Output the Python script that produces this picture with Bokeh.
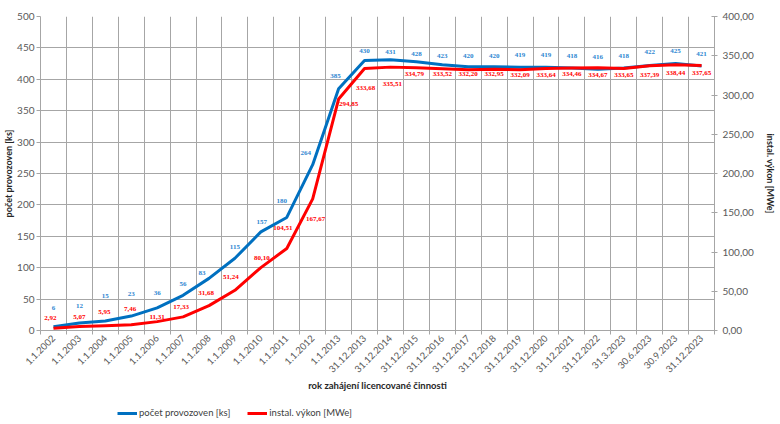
from bokeh.plotting import figure
from bokeh.layouts import column
from bokeh.models import (Range1d, LinearAxis, FixedTicker, ColumnDataSource, LabelSet,
                          Legend, LegendItem)
from bokeh.embed import file_html
from bokeh.resources import INLINE

# ---------------- data ----------------
dates = ["1.1.2002", "1.1.2003", "1.1.2004", "1.1.2005", "1.1.2006", "1.1.2007",
         "1.1.2008", "1.1.2009", "1.1.2010", "1.1.2011", "1.1.2012", "1.1.2013",
         "31.12.2013", "31.12.2014", "31.12.2015", "31.12.2016", "31.12.2017",
         "31.12.2018", "31.12.2019", "31.12.2020", "31.12.2021", "31.12.2022",
         "31.3.2023", "30.6.2023", "30.9.2023", "31.12.2023"]
count_ks = [6, 12, 15, 23, 36, 56, 83, 115, 157, 180, 264, 385, 430, 431, 428, 423,
            420, 420, 419, 419, 418, 416, 418, 422, 425, 421]
power_mwe = [2.92, 5.07, 5.95, 7.46, 11.31, 17.33, 31.68, 51.24, 80.10, 104.51, 167.67,
             294.85, 333.68, 335.51, 334.79, 333.52, 332.20, 332.95, 332.09, 333.64,
             334.46, 334.67, 333.65, 337.39, 338.44, 337.65]
left_ticks = [0, 50, 100, 150, 200, 250, 300, 350, 400, 450, 500]
right_ticks = [0, 50, 100, 150, 200, 250, 300, 350, 400]
series_names = ["počet provozoven [ks]", "instal. výkon [MWe]"]

# ---------------- label styling (screen px offsets) ----------------
blue_dx = [0, 0, 0, 0, 0, 0, -7, 0, 1, -5, -7, -3, 0, 0, 0, 0, 0, 0, 0, 0, 0, 0, 0, 0, 0, 0]
blue_dy = [19, 17, 25, 22, 15, 11, 5, 11, 10, 16, 12, 13, 9, 8, 8, 9, 11, 11, 12, 12, 12, 12, 12, 13, 13, 12]
red_dx = [-3, 0, -1, -1, 0, -2, -3, -4, 1, -4, 3, 10, 1, 2, -2, 0, 0, 0, 0, 0, 0, 0, 0, 0, 0, 0]
red_dy = [10, 10, 14, 16, 5, 10, 13, 13, 10, 20, -20, -5, -19, -17, -6, -5, -4, -5, -5, -6, -6, -7, -6, -9, -8, -8]

BLUE = "#0070C0"
BLUE_TXT = "#2E86D1"
RED = "#FF0000"
GRID = "#A6A6A6"
TXT = "#595959"
FONT = "Lato"

n = len(dates)
xs = [i + 0.5 for i in range(n)]

def cz(v):
    return f"{v:.2f}".replace(".", ",")

src = ColumnDataSource(dict(
    x=xs, cnt=count_ks, pw=power_mwe,
    cnt_txt=[str(v) for v in count_ks], pw_txt=[cz(v) for v in power_mwe],
    bdx=blue_dx, bdy=blue_dy, rdx=red_dx, rdy=red_dy))

p = figure(width=780, height=404, output_backend="svg", toolbar_location=None,
           x_range=Range1d(0, n), y_range=Range1d(0, 500),
           min_border_left=37, min_border_right=66, min_border_top=16, min_border_bottom=74)
p.outline_line_color = None
p.background_fill_color = "white"
p.border_fill_color = "white"
p.extra_y_ranges = {"pw": Range1d(0, 400)}

# x axis
xax = p.xaxis[0]
xax.ticker = FixedTicker(ticks=xs, minor_ticks=list(range(n + 1)))
xax.major_label_overrides = {x: d for x, d in zip(xs, dates)}
xax.major_label_orientation = 0.785398
xax.major_tick_out = 0
xax.major_tick_in = 0
xax.minor_tick_out = 4
xax.minor_tick_in = 0
xax.minor_tick_line_color = GRID
xax.axis_line_color = GRID
xax.major_label_text_font = FONT
xax.major_label_text_font_size = "9.5px"
xax.major_label_text_color = TXT
xax.major_label_standoff = 2
xax.axis_label = "rok zahájení licencované činnosti"
xax.axis_label_text_font = FONT
xax.axis_label_text_font_style = "bold"
xax.axis_label_text_font_size = "9.5px"
xax.axis_label_text_color = "#262626"
xax.axis_label_standoff = 1

# left axis
yax = p.yaxis[0]
yax.ticker = FixedTicker(ticks=left_ticks)
yax.minor_tick_line_color = None
yax.major_tick_out = 4
yax.major_tick_in = 0
yax.major_tick_line_color = GRID
yax.axis_line_color = GRID
yax.major_label_text_font = FONT
yax.major_label_text_font_size = "10px"
yax.major_label_text_color = TXT
yax.major_label_standoff = 2
yax.axis_label = series_names[0]
yax.axis_label_text_font = FONT
yax.axis_label_text_font_style = "bold"
yax.axis_label_text_font_size = "9px"
yax.axis_label_text_color = "#262626"
yax.axis_label_standoff = 0

# right axis
rax = LinearAxis(y_range_name="pw", ticker=FixedTicker(ticks=right_ticks))
rax.major_label_overrides = {t: cz(t) for t in right_ticks}
rax.minor_tick_line_color = None
rax.major_tick_out = 3
rax.major_tick_in = 3
rax.major_tick_line_color = GRID
rax.axis_line_color = GRID
rax.major_label_text_font = FONT
rax.major_label_text_font_size = "10px"
rax.major_label_text_color = TXT
rax.major_label_standoff = 5
rax.axis_label = series_names[1]
rax.axis_label_text_font = FONT
rax.axis_label_text_font_style = "bold"
rax.axis_label_text_font_size = "9px"
rax.axis_label_text_color = "#262626"
rax.axis_label_standoff = 8
p.add_layout(rax, "right")

# grids
p.ygrid.ticker = FixedTicker(ticks=left_ticks)
p.ygrid.grid_line_color = GRID
p.xgrid.ticker = FixedTicker(ticks=list(range(n + 1)))
p.xgrid.grid_line_color = GRID

# lines
p.line("x", "cnt", source=src, line_color=BLUE, line_width=3, line_join="round")
p.line("x", "pw", source=src, line_color=RED, line_width=3, line_join="round",
       y_range_name="pw")

# data labels
p.add_layout(LabelSet(x="x", y="cnt", text="cnt_txt", source=src, x_offset="bdx", y_offset="bdy",
                      text_font=FONT, text_font_size="7px", text_font_style="bold",
                      text_color=BLUE_TXT, text_align="center", text_baseline="middle"))
p.add_layout(LabelSet(x="x", y="pw", text="pw_txt", source=src, x_offset="rdx", y_offset="rdy",
                      y_range_name="pw",
                      text_font=FONT, text_font_size="7px", text_font_style="bold",
                      text_color=RED, text_align="center", text_baseline="middle"))

# ---------------- legend strip below the chart ----------------
pl = figure(width=780, height=20, output_backend="svg", toolbar_location=None,
            x_range=Range1d(0, 1), y_range=Range1d(0, 1),
            min_border_left=0, min_border_right=0, min_border_top=0, min_border_bottom=0)
pl.axis.visible = False
pl.grid.visible = False
pl.outline_line_color = None
pl.border_fill_color = "white"
# key renderers for the legend swatches only (kept outside the strip's visible range)
kb = pl.line(x=[5, 6], y=[5, 5], line_color=BLUE, line_width=3)
kr = pl.line(x=[5, 6], y=[5, 5], line_color=RED, line_width=3)
leg = Legend(items=[LegendItem(label=series_names[0], renderers=[kb]),
                    LegendItem(label=series_names[1], renderers=[kr])],
             orientation="horizontal", location=(77, 6),
             label_text_font=FONT, label_text_font_size="9.5px", label_text_color="#404040",
             glyph_width=20, glyph_height=10, spacing=17, padding=2, margin=0,
             border_line_color=None, background_fill_alpha=0, label_standoff=2,
             label_height=10)
pl.add_layout(leg)

layout = column(p, pl)
open("out.html", "w").write(file_html(layout, INLINE))
